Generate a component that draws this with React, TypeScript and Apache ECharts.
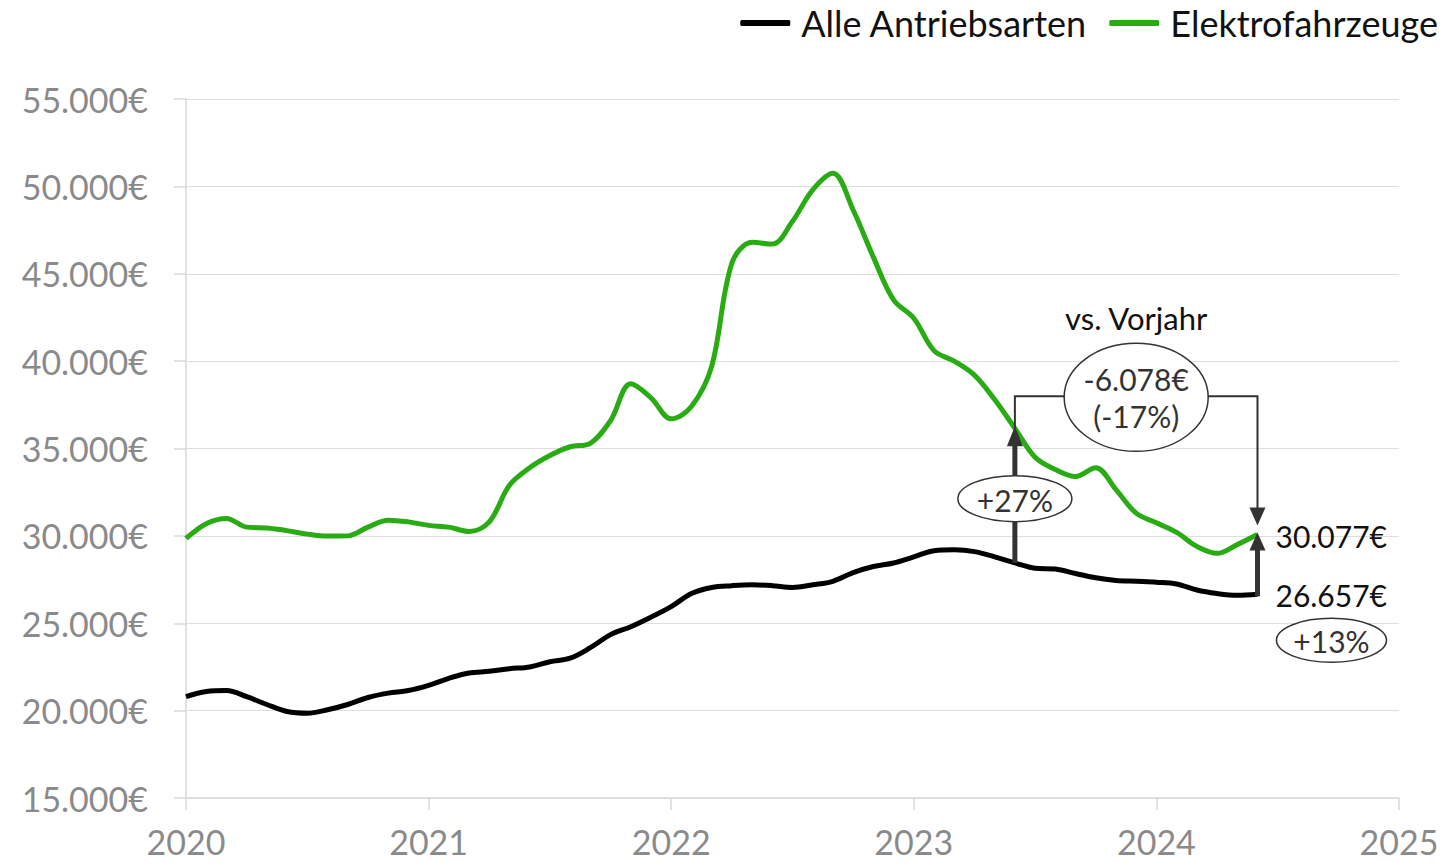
import React, { useEffect, useRef } from "react";
import * as echarts from "echarts";

// Monthly values, Jan 2020 .. Jun 2024 (index = months since Jan 2020)
const allDrive: number[] = [
  20800, 21100, 21150, 20800, 20350, 19950, 19850, 20050, 20350, 20750, 21000, 21150,
  21450, 21850, 22150, 22250, 22400, 22500, 22800, 23000, 23600, 24350, 24800, 25350,
  25950, 26700, 27050, 27150, 27200, 27150, 27050, 27200, 27400, 27900, 28250, 28450,
  28800, 29150, 29200, 29100, 28800, 28450, 28150, 28100, 27850, 27600, 27450, 27400,
  27350, 27250, 26900, 26700, 26600, 26657,
];
const electric: number[] = [
  29850, 30700, 31000, 30500, 30450, 30300, 30100, 29990, 30000, 30500, 30900, 30800,
  30600, 30500, 30250, 30800, 32900, 33900, 34600, 35100, 35300, 36600, 38700, 37900,
  36700, 37400, 39700, 45600, 46800, 46700, 48000, 49800, 50750, 48650, 45950, 43500,
  42450, 40600, 40000, 39200, 37800, 36155, 34500, 33800, 33400, 33900, 32650, 31300,
  30750, 30200, 29400, 29000, 29500, 30077,
];
const seriesNames = ["Alle Antriebsarten", "Elektrofahrzeuge"];
const startYear = 2020;
const yearTicks = [2020, 2021, 2022, 2023, 2024, 2025];
const prevYearIndex = 41; // Jun 2023
const lastIndex = 53; // Jun 2024
const labelLast = ["30.077€", "26.657€"];
const labelDiff = ["-6.078€", "(-17%)"];
const labelPct = ["+27%", "+13%"];
const labelVs = "vs. Vorjahr";

const FONT = "Lato, 'Open Sans', sans-serif";
const GREEN = "#29ab14";
const DARK = "#333333";

const fmtEuro = (v: number) =>
  String(Math.round(v)).replace(/\B(?=(\d{3})+(?!\d))/g, ".") + "€";

export default function App() {
  const ref = useRef<HTMLDivElement>(null);
  useEffect(() => {
    if (!ref.current) return;
    const chart = echarts.init(ref.current, null, { renderer: "svg" });
    const toPairs = (arr: number[]) => arr.map((v, i) => [i, v]);
    chart.setOption({
      animation: false,
      textStyle: { fontFamily: FONT },
      legend: {
        right: 2,
        top: 0,
        itemWidth: 50,
        itemHeight: 6,
        itemGap: 22,
        icon: "roundRect",
        textStyle: { fontSize: 36, color: "#111", fontFamily: FONT, padding: [0, 0, 0, 6] },
        data: seriesNames,
      },
      grid: { left: 186, right: 46, top: 99, bottom: 65 },
      xAxis: {
        type: "value",
        min: 0,
        max: (yearTicks.length - 1) * 12,
        interval: 12,
        axisLine: { show: true, lineStyle: { color: "#d9d9d9", width: 1.5 } },
        axisTick: { show: true, length: 12, lineStyle: { color: "#d9d9d9", width: 1.5 } },
        splitLine: { show: false },
        axisLabel: {
          color: "#8a8a8a",
          fontSize: 34,
          fontFamily: FONT,
          margin: 26,
          formatter: (v: number) => String(startYear + Math.round(v / 12)),
        },
      },
      yAxis: {
        type: "value",
        min: 15000,
        max: 55000,
        interval: 5000,
        axisLine: { show: true, lineStyle: { color: "#d9d9d9", width: 1.5 } },
        axisTick: { show: true, length: 12, lineStyle: { color: "#d9d9d9", width: 1.5 } },
        splitLine: { show: true, lineStyle: { color: "#dedede", width: 1.2 } },
        axisLabel: {
          color: "#8a8a8a",
          fontSize: 34,
          fontFamily: FONT,
          margin: 38,
          formatter: fmtEuro,
        },
      },
      series: [
        {
          name: seriesNames[0],
          type: "line",
          data: toPairs(allDrive),
          smooth: 0.35,
          showSymbol: false,
          lineStyle: { color: "#000", width: 5 },
          itemStyle: { color: "#000" },
          z: 3,
        },
        {
          name: seriesNames[1],
          type: "line",
          data: toPairs(electric),
          smooth: 0.35,
          showSymbol: false,
          lineStyle: { color: GREEN, width: 5 },
          itemStyle: { color: GREEN },
          z: 4,
        },
      ],
    });

    const p = (i: number, v: number) =>
      chart.convertToPixel({ gridIndex: 0 }, [i, v]) as number[];
    const a0 = p(prevYearIndex, allDrive[prevYearIndex]);
    const e0 = p(prevYearIndex, electric[prevYearIndex]);
    const a1 = p(lastIndex, allDrive[lastIndex]);
    const e1 = p(lastIndex, electric[lastIndex]);
    const bracketY = e0[1] - 32;
    const midX = (e0[0] + e1[0]) / 2;
    const txt = (x: number, y: number, text: string, size: number, align = "center", color = DARK) => ({
      type: "text",
      z: 120,
      x,
      y,
      style: {
        text,
        fontSize: size,
        fontFamily: FONT,
        fill: color,
        align,
        verticalAlign: "middle",
      },
    });
    const head = (x: number, tipY: number, dir: number, w: number, h: number) => ({
      type: "polygon",
      z: 100,
      shape: { points: [[x, tipY], [x - w / 2, tipY + dir * h], [x + w / 2, tipY + dir * h]] },
      style: { fill: DARK },
    });
    const ell = (cx: number, cy: number, rx: number, ry: number) => ({
      type: "ellipse",
      z: 110,
      shape: { cx, cy, rx, ry },
      style: { fill: "#fff", stroke: DARK, lineWidth: 1.5 },
    });

    chart.setOption({
      graphic: [
        // thick arrow +27%
        {
          type: "line",
          z: 100,
          shape: { x1: a0[0], y1: a0[1], x2: e0[0], y2: e0[1] + 16 },
          style: { stroke: DARK, lineWidth: 5 },
        },
        head(e0[0], e0[1] - 2, 1, 16, 20),
        ell(e0[0], (a0[1] + e0[1]) / 2 + 3, 57, 23),
        txt(e0[0], (a0[1] + e0[1]) / 2 + 4, labelPct[0], 30),
        // bracket
        {
          type: "polyline",
          z: 100,
          shape: {
            points: [
              [e0[0], e0[1]],
              [e0[0], bracketY],
              [e1[0], bracketY],
              [e1[0], e1[1] - 22],
            ],
          },
          style: { stroke: DARK, lineWidth: 2, fill: null },
        },
        head(e1[0], e1[1] - 9, -1, 16, 18),
        ell(midX, bracketY + 1, 72, 54),
        txt(midX, bracketY - 17, labelDiff[0], 30),
        txt(midX, bracketY + 20, labelDiff[1], 30),
        txt(midX, e0[1] - 110, labelVs, 31, "center", "#111"),
        // right arrow
        {
          type: "line",
          z: 100,
          shape: { x1: a1[0], y1: a1[1] + 2, x2: e1[0], y2: e1[1] + 14 },
          style: { stroke: DARK, lineWidth: 5 },
        },
        head(e1[0], e1[1] - 2, 1, 16, 18),
        txt(e1[0] + 18, e1[1] + 1, labelLast[0], 30, "left", "#111"),
        txt(e1[0] + 18, a1[1] + 1, labelLast[1], 30, "left", "#111"),
        ell(e1[0] + 74, a1[1] + 46, 55, 22),
        txt(e1[0] + 74, a1[1] + 47, labelPct[1], 30),
      ],
    });

    return () => chart.dispose();
  }, []);
  return <div ref={ref} style={{ width: 1445, height: 863, margin: -8 }} />;
}
